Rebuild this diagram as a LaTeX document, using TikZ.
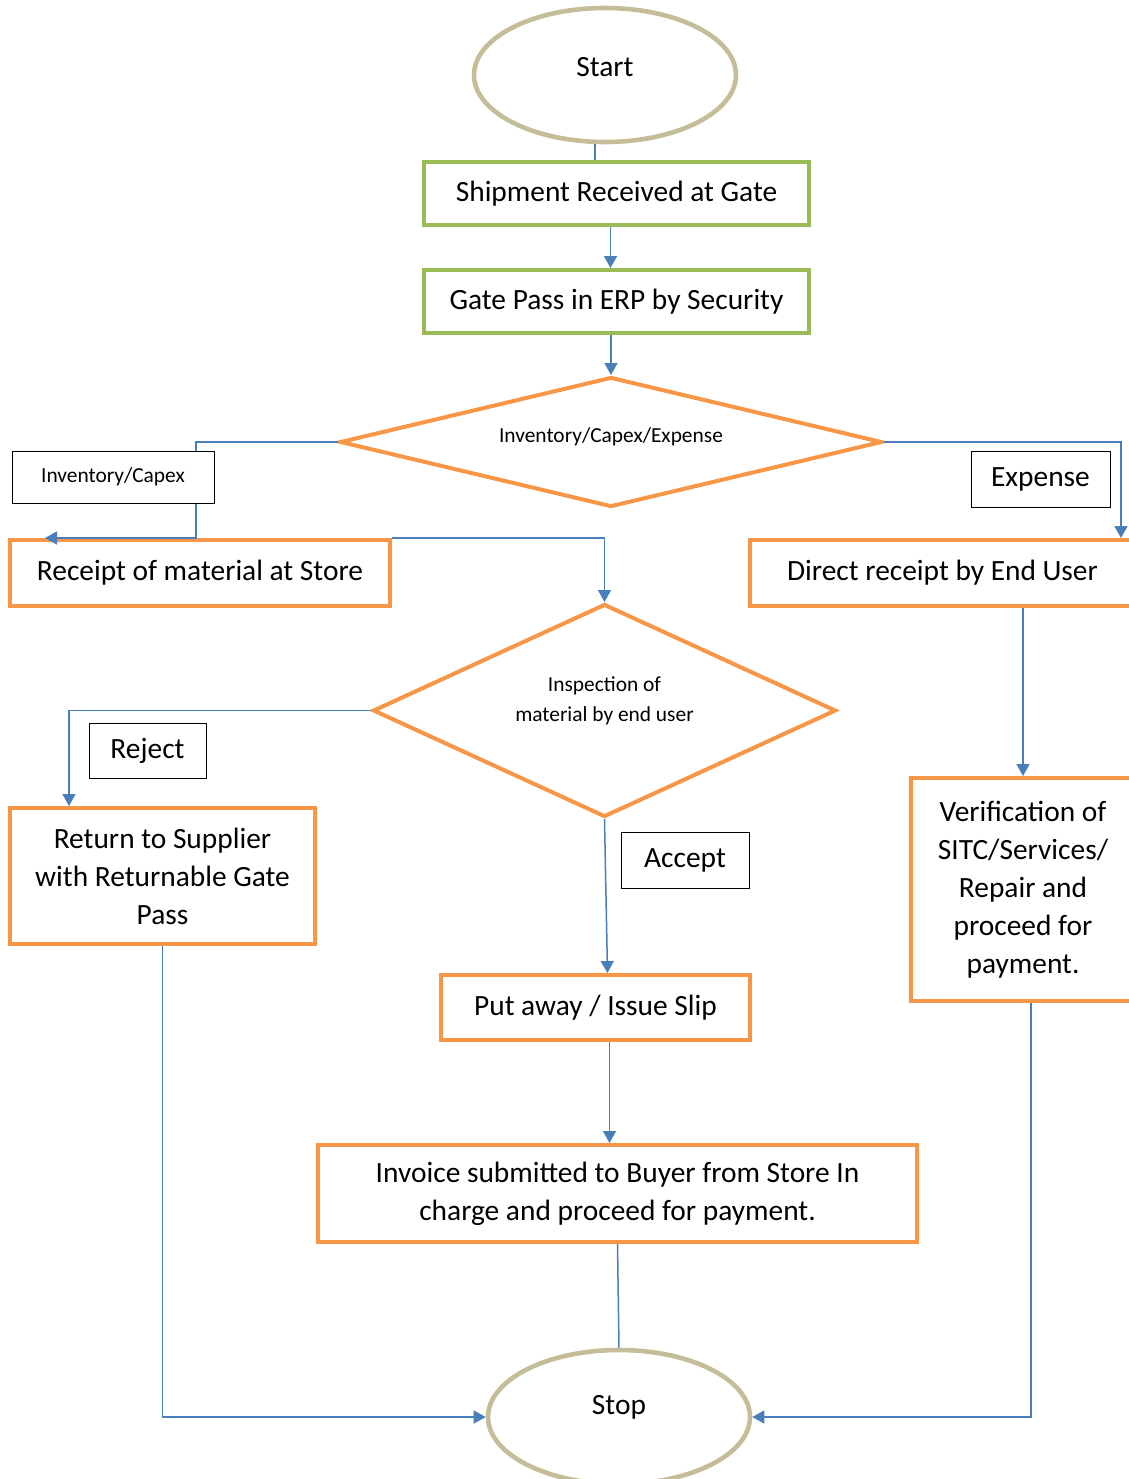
\documentclass[tikz,border=0pt]{standalone}
\usepackage{fontspec}
\setmainfont{Carlito}
\usetikzlibrary{arrows.meta,calc,shapes.geometric}
\definecolor{lineblue}{HTML}{4A7EBB}
\definecolor{boxorange}{HTML}{F79646}
\definecolor{boxgreen}{HTML}{9BBB59}
\definecolor{ovaltan}{HTML}{C4BD97}

\begin{document}
\begin{tikzpicture}[
    x={(0.5pt,0)}, y={(0,-0.5pt)},
    font=\fontsize{14.7pt}{19pt}\selectfont,
    oval/.style={draw=ovaltan, line width=2.3pt, ellipse, minimum width=131pt, minimum height=67pt},
    gbox/.style={draw=boxgreen, line width=2pt, minimum width=192.5pt, minimum height=31.5pt, align=center},
    box/.style={draw=boxorange, line width=2pt, align=center},
    dec/.style={draw=boxorange, line width=2pt, diamond, inner sep=0pt},
    small/.style={font=\fontsize{10.7pt}{15pt}\selectfont, align=center},
    lbl/.style={draw, line width=0.5pt, fill=white, align=center},
    arr/.style={-{Triangle[length=6pt, width=6.5pt]}, draw=lineblue, line width=0.75pt},
    link/.style={draw=lineblue, line width=0.75pt}
  ]
  \useasboundingbox (0,0) rectangle (1129,1479);
  \node[oval, label={[yshift=4pt]center:Start}] (start) at (605,75) {};
  \node[gbox] (ship) at (616.5,193.5) {Shipment Received at Gate};
  \node[gbox] (gate) at (616.5,301.5) {Gate Pass in ERP by Security};
  \node[dec, minimum width=271pt, minimum height=65pt,
    label={[small, yshift=2.5pt]center:Inventory/Capex/Expense}] (type) at (611,442) {};
  \node[box, minimum width=190pt, minimum height=33pt] (store) at (200,573) {Receipt of material at Store};
  \node[box, minimum width=192.5pt, minimum height=33pt] (direct) at (942.5,573) {Direct receipt by End User};
  \node[dec, minimum width=231.5pt, minimum height=106.5pt,
    label={[small, yshift=5pt]center:Inspection of\\material by end user}] (insp) at (604.5,710.5) {};
  \node[box, minimum width=152.5pt, minimum height=68pt] (ret) at (162.5,876) {Return to Supplier\\with Returnable Gate\\Pass};
  \node[box, minimum width=112pt, minimum height=111.5pt] (verif) at (1023,889.5) {Verification of\\SITC/Services/\\Repair and\\proceed for\\payment.};
  \node[box, minimum width=154.5pt, minimum height=32.5pt] (putaway) at (595.5,1007.5) {Put away / Issue Slip};
  \node[box, minimum width=299.5pt, minimum height=48.5pt] (invoice) at (617.5,1193.5) {Invoice submitted to Buyer from Store In\\charge and proceed for payment.};
  \node[oval, label={[yshift=5pt]center:Stop}] (stop) at (619,1417) {};

  \draw[link] ([xshift=-5pt]start.south) -- ([xshift=-5pt]start.south |- ship.north);
  \draw[arr] ([xshift=-3pt]ship.south) -- ([xshift=-3pt]gate.north);
  \draw[arr] (gate.south -| type.north) -- (type.north);
  \draw[arr] (type.west) -| ($(store.north east)+(-196,-20)$) |- ($(store.north west)+(37,0)$);
  \draw[arr] (type.east) -| ($(direct.north west)+(373,0)$);
  \draw[arr] (store.north east) -| (insp.north);
  \draw[arr] (insp.west) -| ($(ret.north west)+(61,0)$);
  \draw[arr] (insp.south) -- ([xshift=6pt]putaway.north);
  \draw[arr] ([xshift=7pt]putaway.south) -- ([xshift=-4pt]invoice.north);
  \draw[link] (invoice.south) -- (stop.north);
  \draw[arr] (ret.south) |- (stop.west);
  \draw[arr] (verif.north |- direct.south) -- (verif.north);
  \draw[arr] ([xshift=4pt]verif.south) |- (stop.east);

  \node[lbl, small, minimum width=101pt, minimum height=26pt] (invlbl) at (113,477) {Inventory/Capex};
  \node[lbl, minimum width=69.5pt, minimum height=28pt] (explbl) at (1040.5,479) {Expense};
  \node[lbl, minimum width=58.5pt, minimum height=27.5pt] (rejlbl) at (147.5,750.5) {Reject};
  \node[lbl, minimum width=64pt, minimum height=28pt] (acclbl) at (685,860) {Accept};
\end{tikzpicture}
\end{document}
